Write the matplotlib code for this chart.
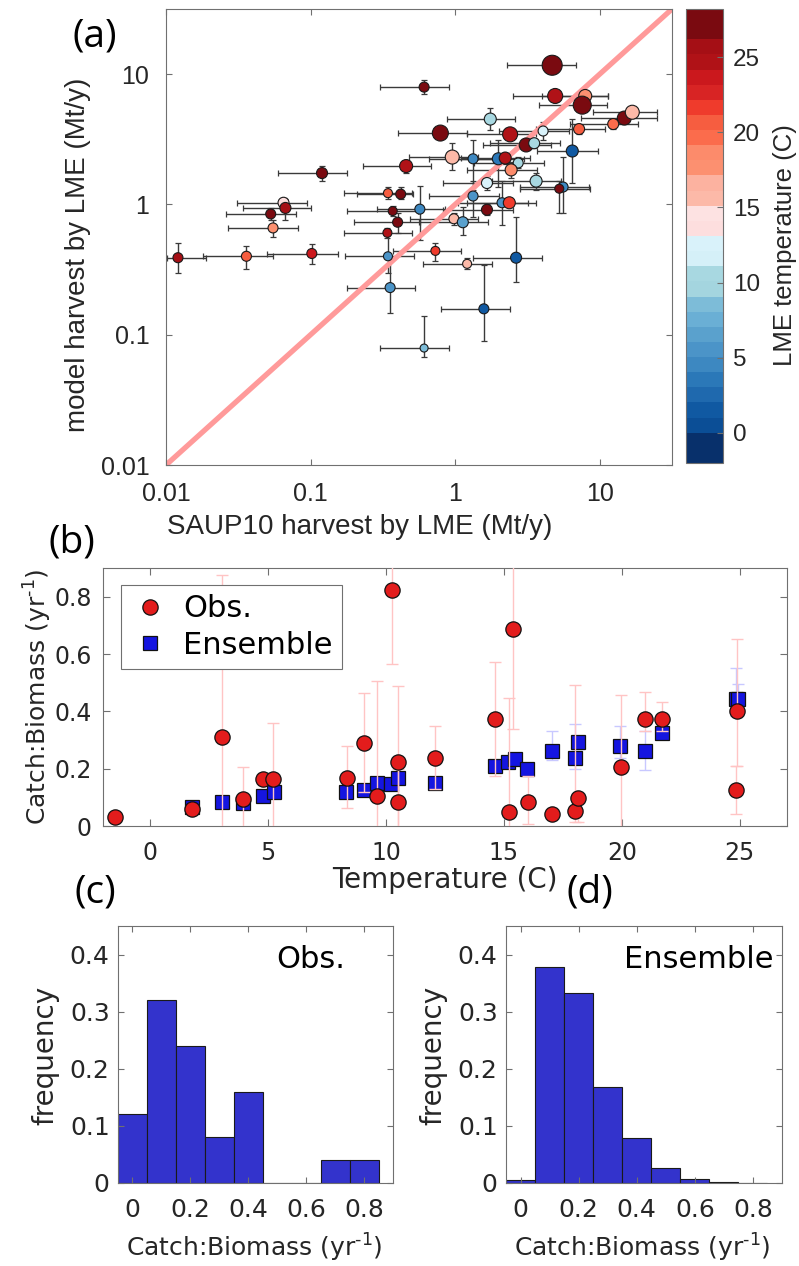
import numpy as np
import matplotlib
matplotlib.use('Agg')
import matplotlib.pyplot as plt
from matplotlib.colors import ListedColormap, BoundaryNorm
from matplotlib.cm import ScalarMappable
from matplotlib.lines import Line2D

plt.rcParams['mathtext.fontset'] = 'dejavusans'

# ---------------- Panel (a): model vs SAUP10 harvest by LME ----------------
saup_harvest = [0.0121, 0.036, 0.102, 0.343, 0.355, 0.12, 0.065, 0.067, 0.053, 0.055,
                0.458, 0.343, 0.42, 0.57, 0.37, 0.40, 0.34, 0.73, 0.98, 1.13,
                0.61, 4.92, 4.69, 7.94, 7.57, 1.75, 0.79, 2.4, 4.06, 7.2,
                6.46, 3.1, 3.52, 0.955, 1.33, 1.99, 2.22, 2.73, 2.44, 1.66,
                3.63, 5.58, 5.25, 1.33, 2.11, 2.37, 1.66, 1.21, 2.64, 1.58,
                0.61, 14.8, 16.8, 12.4]
model_harvest = [0.39, 0.40, 0.42, 0.40, 0.23, 1.74, 1.03, 0.94, 0.845, 0.66,
                 1.97, 1.22, 1.2, 0.92, 0.89, 0.73, 0.605, 0.44, 0.776, 0.73,
                 7.95, 6.8, 11.7, 6.8, 5.78, 4.52, 3.53, 3.45, 3.66, 3.79,
                 2.57, 2.86, 2.95, 2.31, 2.24, 2.24, 2.27, 2.08, 1.84, 1.46,
                 1.51, 1.36, 1.32, 1.16, 1.03, 1.03, 0.91, 0.35, 0.39, 0.158,
                 0.079, 4.6, 5.1, 4.14]
lme_temp = [25.5, 20.5, 23.5, 5.5, 5.5, 27.5, 13.5, 25.5, 27.5, 17.5,
            24.5, 20.5, 27.5, 4.5, 27.5, 27.5, 24.5, 21.5, 15.5, 6.5,
            27.5, 24.5, 27.5, 17.5, 27.5, 10.5, 27.5, 24.5, 12.5, 20.5,
            1.5, 27.5, 10.5, 15.5, 4.5, 3.5, 24.5, 10.5, 18.5, 12.5,
            10.5, 4.5, 27.5, 5.5, 5.5, 21.5, 27.5, 15.5, 1.5, 1.5,
            8.5, 27.5, 15.5, 19.5]
saup_lo = [0.0101, 0.018, 0.05, 0.174, 0.18, 0.06, 0.031, 0.034, 0.026, 0.027,
           0.23, 0.17, 0.21, 0.29, 0.18, 0.2, 0.17, 0.37, 0.49, 0.56,
           0.30, 2.5, 2.3, 4.0, 3.8, 0.88, 0.4, 1.2, 2.0, 3.6,
           3.7, 1.55, 1.75, 0.48, 0.66, 1.0, 1.1, 1.36, 1.2, 0.83,
           1.8, 2.8, 2.8, 0.66, 1.05, 1.2, 0.83, 0.6, 1.33, 0.8,
           0.3, 7.4, 9.0, 6.2]
saup_hi = [0.019, 0.055, 0.155, 0.52, 0.53, 0.18, 0.094, 0.10, 0.079, 0.082,
           0.68, 0.5, 0.51, 0.85, 0.55, 0.57, 0.5, 1.1, 1.45, 1.7,
           0.91, 11.5, 6.9, 11.5, 11.3, 2.6, 1.2, 3.6, 6.1, 10.8,
           9.8, 4.6, 5.3, 1.43, 2.0, 3.0, 3.3, 4.1, 3.7, 2.5,
           5.4, 8.4, 8.5, 2.0, 3.2, 3.6, 2.5, 1.8, 4.0, 2.4,
           0.91, 25.0, 25.0, 18.5]
model_lo = [0.30, 0.32, 0.35, 0.30, 0.148, 1.51, 0.92, 0.76, 0.76, 0.56,
            1.75, 1.1, 1.1, 0.53, 0.82, 0.6, 0.55, 0.37, 0.70, 0.58,
            7.1, 6.1, 11.0, 6.3, 5.4, 3.7, 3.2, 3.1, 3.1, 3.5,
            1.46, 2.6, 2.7, 1.84, 1.3, 1.35, 2.05, 1.9, 1.6, 1.3,
            1.3, 0.86, 0.86, 0.8, 0.7, 0.95, 0.83, 0.32, 0.255, 0.09,
            0.068, 4.3, 4.8, 3.8]
model_hi = [0.51, 0.48, 0.50, 0.60, 0.40, 1.97, 1.12, 1.10, 0.94, 0.76,
            2.2, 1.36, 1.35, 1.39, 0.97, 0.86, 0.66, 0.51, 0.86, 0.96,
            9.0, 7.5, 12.4, 7.3, 6.2, 5.5, 3.9, 3.8, 4.3, 4.1,
            4.5, 3.1, 3.2, 2.96, 3.1, 3.1, 2.5, 2.3, 2.1, 1.65,
            1.75, 2.3, 1.5, 1.5, 1.5, 1.12, 1.0, 0.39, 0.80, 0.34,
            0.138, 4.9, 5.4, 4.5]
marker_px = [10, 10, 10, 9, 10, 11, 11, 11, 10, 10,
             13, 9, 10, 10, 9, 10, 9, 9, 10, 11,
             10, 15, 20, 13, 18, 12, 16, 15, 10, 11,
             12, 14, 11, 14, 10, 12, 12, 10, 12, 11,
             12, 10, 9, 10, 10, 12, 11, 9, 11, 10,
             8, 14, 14, 11]

# colour levels of the LME temperature colour bar (-2 .. 28 C)
temp_colors = ['#08306b', '#08306b', '#0b4e96', '#1059a2', '#1f69ae', '#2b78b8',
               '#3d88c1', '#4b94c8', '#5aa1cd', '#6aafd5', '#7dbcd8', '#a4d5df',
               '#a8d8e1', '#d5f0f8', '#d9f2fa', '#fddede', '#fde2e2', '#fcb9a8',
               '#fcb2a0', '#fc9070', '#fc8b6b', '#fb6c4c', '#f65d40', '#ef3b2c',
               '#d82424', '#cb181d', '#b01217', '#a50f15', '#7a0a10', '#7a0a10']

# ---------------- Panel (b): Catch:Biomass vs temperature ----------------
obs_temp = [-1.49, 1.79, 3.06, 3.95, 4.8, 5.2, 8.33, 9.06, 9.6, 10.24,
            10.5, 10.5, 12.07, 14.63, 15.2, 15.4, 16.0, 17.05, 18.0, 18.15,
            19.95, 21.0, 21.7, 24.85, 24.9]
obs_ratio = [0.032, 0.06, 0.31, 0.095, 0.165, 0.165, 0.168, 0.29, 0.105, 0.825,
             0.224, 0.084, 0.238, 0.372, 0.049, 0.688, 0.084, 0.042, 0.053, 0.098,
             0.207, 0.375, 0.372, 0.126, 0.40]
obs_lo = [0.025, 0.05, -0.1, -0.05, 0.15, -0.05, 0.062, 0.12, -0.1, 0.565,
          -0.05, -0.05, 0.13, 0.175, -0.1, 0.337, 0.007, 0.035, 0.015, 0.015,
          -0.1, 0.331, 0.33, 0.041, 0.21]
obs_hi = [0.04, 0.07, 0.877, 0.207, 0.18, 0.36, 0.278, 0.463, 0.505, 1.2,
          0.487, 0.2, 0.348, 0.573, 0.446, 1.2, 0.173, 0.05, 0.491, 0.11,
          0.456, 0.468, 0.434, 0.21, 0.653]

ens_temp = [1.79, 3.06, 3.95, 4.8, 5.24, 8.32, 9.06, 9.62, 10.19, 10.51,
            12.06, 14.61, 15.19, 15.45, 15.97, 17.04, 18.0, 18.14, 19.94, 21.0,
            21.7, 24.83, 24.92]
ens_ratio = [0.068, 0.084, 0.08, 0.105, 0.12, 0.118, 0.126, 0.15, 0.146, 0.168,
             0.15, 0.209, 0.222, 0.233, 0.2, 0.261, 0.237, 0.292, 0.278, 0.261,
             0.323, 0.442, 0.442]
ens_lo = [0.06, 0.075, 0.07, 0.095, 0.11, 0.105, 0.115, 0.135, 0.13, 0.15,
          0.14, 0.19, 0.205, 0.215, 0.185, 0.23, 0.2, 0.27, 0.237, 0.194,
          0.31, 0.383, 0.42]
ens_hi = [0.076, 0.094, 0.09, 0.115, 0.13, 0.13, 0.138, 0.165, 0.16, 0.185,
          0.16, 0.225, 0.24, 0.25, 0.215, 0.333, 0.357, 0.31, 0.348, 0.331,
          0.34, 0.55, 0.497]

# ---------------- Panel (d): ensemble histogram ----------------
ens_bin_centers = [0.0, 0.1, 0.2, 0.3, 0.4, 0.5, 0.6, 0.7, 0.8]
ens_freq = [0.006, 0.378, 0.333, 0.168, 0.079, 0.026, 0.007, 0.002, 0.0005]

# ====================================================================
W, H = 799, 1266
fig = plt.figure(figsize=(W / 100, H / 100), dpi=100)


def rect(l, t, r, b):
    return [l / W, 1 - b / H, (r - l) / W, (b - t) / H]


def ftext(x, y, s, **kw):
    fig.text(x / W, 1 - y / H, s, ha='center', va='center', **kw)


SPINE = '#707070'
TXT = '#262626'
A_FONT = 'Liberation Sans'
B_FONT = 'DejaVu Sans'
L_FONT = 'Open Sans'
SUP = 'Catch:Biomass (yr$^{\\text{-}1}$)'

# ---------- (a) ----------
axA = fig.add_axes(rect(166, 9, 672, 465))
cax = fig.add_axes(rect(686, 9, 723, 463))

cmap = ListedColormap(temp_colors)
bounds = np.linspace(-2, 28.2, len(temp_colors) + 1)
norm = BoundaryNorm(bounds, cmap.N)

xs = np.array(saup_harvest)
ys = np.array(model_harvest)
xerr = [xs - np.array(saup_lo), np.array(saup_hi) - xs]
yerr = [ys - np.array(model_lo), np.array(model_hi) - ys]

axA.set_xscale('log')
axA.set_yscale('log')
axA.errorbar(xs, ys, xerr=xerr, yerr=yerr, fmt='none', ecolor='#3a3a3a',
             elinewidth=1.0, capsize=2.2, capthick=0.9, zorder=1)
axA.axline((1e-2, 1e-2), (1.0, 1.0), color='#ff9a9a', lw=3.8, zorder=2,
           solid_capstyle='butt')
sizes = (np.array(marker_px) * 0.72) ** 2
axA.scatter(xs, ys, c=lme_temp, cmap=cmap, norm=norm, s=sizes,
            edgecolors='#1a1a1a', linewidths=0.8, zorder=3)
axA.set_xlim(1e-2, 10 ** 1.5)
axA.set_ylim(1e-2, 10 ** 1.5)
decades = [0.01, 0.1, 1, 10]
dec_lab = ['0.01', '0.1', '1', '10']
axA.set_xticks(decades)
axA.set_xticklabels(dec_lab)
axA.set_yticks(decades)
axA.set_yticklabels(dec_lab)
axA.minorticks_off()
axA.tick_params(which='both', direction='in', top=True, right=True, length=4,
                width=0.8, color=SPINE, labelcolor=TXT, labelsize=18, pad=12)
for lab in axA.get_xticklabels() + axA.get_yticklabels():
    lab.set_fontfamily(A_FONT)
for s in axA.spines.values():
    s.set_color(SPINE)
    s.set_linewidth(0.8)

cb = fig.colorbar(ScalarMappable(norm=norm, cmap=cmap), cax=cax,
                  ticks=[0, 5, 10, 15, 20, 25])
cb.outline.set_edgecolor(SPINE)
cb.outline.set_linewidth(0.8)
cax.tick_params(direction='in', length=4, width=0.8, color=SPINE,
                labelcolor=TXT, labelsize=17.5, pad=7)
cax.set_yticklabels(['0', '5', '10', '15', '20', '25'])
for lab in cax.get_yticklabels():
    lab.set_fontfamily(A_FONT)
cax.minorticks_off()

ftext(78, 255, 'model harvest by LME (Mt/y)', rotation=90, fontsize=20,
      family=A_FONT, color=TXT)
ftext(360, 527, 'SAUP10 harvest by LME (Mt/y)', fontsize=20, family=A_FONT,
      color=TXT)
ftext(785, 245, 'LME temperature (C)', rotation=90, fontsize=18.5,
      family=A_FONT, color=TXT)
ftext(95, 37, '(a)', fontsize=28, family=L_FONT, color='black')

# ---------- (b) ----------
axB = fig.add_axes(rect(103, 568, 787, 826))
et = np.array(ens_temp)
er = np.array(ens_ratio)
ot = np.array(obs_temp)
orr = np.array(obs_ratio)
axB.errorbar(et, er, yerr=[er - np.array(ens_lo), np.array(ens_hi) - er],
             fmt='none', ecolor='#c8c8ff', elinewidth=1.0, capsize=4.5,
             capthick=1.0, zorder=1)
axB.plot(et, er, ls='none', marker='s', ms=9.5, mfc='#1515e0', mec='#111111',
         mew=0.9, zorder=2)
axB.errorbar(ot, orr, yerr=[orr - np.array(obs_lo), np.array(obs_hi) - orr],
             fmt='none', ecolor='#ffc4c4', elinewidth=1.0, capsize=4.5,
             capthick=1.0, zorder=4)
axB.plot(ot, orr, ls='none', marker='o', ms=11, mfc='#e31c1c', mec='#111111',
         mew=0.9, zorder=5)
axB.set_xlim(-2, 27)
axB.set_ylim(0, 0.9)
axB.set_xticks([0, 5, 10, 15, 20, 25])
axB.set_yticks([0, 0.2, 0.4, 0.6, 0.8])
axB.set_yticklabels(['0', '0.2', '0.4', '0.6', '0.8'])
axB.tick_params(direction='in', top=True, right=True, length=5, width=0.8,
                color=SPINE, labelcolor=TXT, labelsize=17)
axB.tick_params(axis='x', pad=11)
axB.tick_params(axis='y', pad=8)
for lab in axB.get_xticklabels() + axB.get_yticklabels():
    lab.set_fontfamily(B_FONT)
for s in axB.spines.values():
    s.set_color(SPINE)
    s.set_linewidth(0.8)

hObs = Line2D([], [], ls='none', marker='o', ms=11, mfc='#e31c1c',
              mec='#111111', mew=0.9)
hEns = Line2D([], [], ls='none', marker='s', ms=9.5, mfc='#1515e0',
              mec='#111111', mew=0.9)
leg = axB.legend([hObs, hEns], ['Obs.', 'Ensemble'], loc='upper left',
                 bbox_to_anchor=(0.026, 0.934), frameon=True,
                 fancybox=False, edgecolor=SPINE, framealpha=1,
                 borderpad=0.3, labelspacing=0.25, handlelength=1.3,
                 handletextpad=0.45, borderaxespad=0.0,
                 prop={'family': B_FONT, 'size': 22})
leg.get_frame().set_linewidth(0.8)

ftext(38, 697, SUP, rotation=90, fontsize=18, family=B_FONT, color=TXT)
ftext(445, 880, 'Temperature (C)', fontsize=20, family=B_FONT, color=TXT)
ftext(72, 543, '(b)', fontsize=28, family=L_FONT, color='black')

# ---------- (c) and (d) ----------
edges = np.arange(-0.05, 0.9, 0.1)
counts, _ = np.histogram(obs_ratio, bins=edges)
obs_freq = counts / len(obs_ratio)
obs_centers = 0.5 * (edges[:-1] + edges[1:])

axC = fig.add_axes(rect(118, 926, 393, 1183))
axD = fig.add_axes(rect(506, 926, 782, 1183))
axC.bar(obs_centers, obs_freq, width=0.1, color='#3333cc', edgecolor='#1a1a1a',
        linewidth=0.8)
axD.bar(ens_bin_centers, ens_freq, width=0.1, color='#3333cc',
        edgecolor='#1a1a1a', linewidth=0.8)

for ax, name, ylabx, xlabx, letter, letx in [
        (axC, 'Obs.', 45, 254, '(c)', 95),
        (axD, 'Ensemble', 433, 642, '(d)', 590)]:
    ax.set_xlim(-0.05, 0.9)
    ax.set_ylim(0, 0.45)
    ax.set_xticks([0, 0.2, 0.4, 0.6, 0.8])
    ax.set_xticklabels(['0', '0.2', '0.4', '0.6', '0.8'])
    ax.set_yticks([0, 0.1, 0.2, 0.3, 0.4])
    ax.set_yticklabels(['0', '0.1', '0.2', '0.3', '0.4'])
    ax.tick_params(direction='in', top=True, right=True, length=4, width=0.8,
                   color=SPINE, labelcolor=TXT, labelsize=18)
    ax.tick_params(axis='x', pad=11)
    ax.tick_params(axis='y', pad=6)
    for lab in ax.get_xticklabels() + ax.get_yticklabels():
        lab.set_fontfamily(B_FONT)
    for s in ax.spines.values():
        s.set_color(SPINE)
        s.set_linewidth(0.8)
    ax.text(0.70, 0.87, name, transform=ax.transAxes, ha='center',
            va='center', fontsize=22, family=B_FONT, color='black')
    ftext(ylabx, 1055, 'frequency', rotation=90, fontsize=20, family=B_FONT,
          color=TXT)
    ftext(xlabx, 1248, SUP, fontsize=18, family=B_FONT, color=TXT)
    ftext(letx, 893, letter, fontsize=28, family=L_FONT, color='black')

fig.savefig('out.png', dpi=100, facecolor='white')
